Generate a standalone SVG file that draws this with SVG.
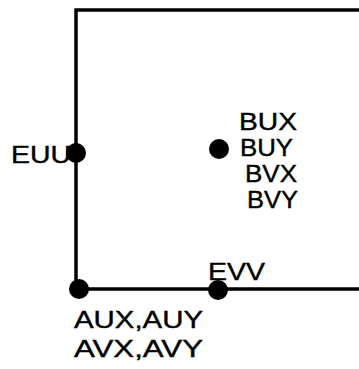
<svg xmlns="http://www.w3.org/2000/svg" width="359" height="369" viewBox="0 0 359 369">
<style>
.ln{fill:none;stroke:#000;stroke-width:3.5;stroke-linejoin:miter}
.dot{fill:#000}
.t{font-family:"Liberation Sans",Arial,sans-serif;font-size:24px;fill:#000;stroke:#000;stroke-width:0.4}
</style>
<rect width="359" height="369" fill="#fff"/>
<g id="connectors">
<polyline class="ln" points="359,10 76,10 76,289 359,289"/>
</g>
<g id="node-euu">
<circle class="dot" cx="76" cy="153" r="10"/>
<text class="t" x="11" y="163" textLength="60" lengthAdjust="spacingAndGlyphs">EUU</text>
</g>
<g id="node-center">
<circle class="dot" cx="219" cy="149" r="10"/>
<text class="t" x="239" y="130" textLength="58" lengthAdjust="spacingAndGlyphs">BUX</text>
<text class="t" x="240" y="156" textLength="53" lengthAdjust="spacingAndGlyphs">BUY</text>
<text class="t" x="245" y="182" textLength="52" lengthAdjust="spacingAndGlyphs">BVX</text>
<text class="t" x="247" y="208" textLength="51" lengthAdjust="spacingAndGlyphs">BVY</text>
</g>
<g id="node-corner">
<circle class="dot" cx="79" cy="289" r="10"/>
<text class="t" x="74" y="328" textLength="129" lengthAdjust="spacingAndGlyphs">AUX,AUY</text>
<text class="t" x="74" y="357" textLength="129" lengthAdjust="spacingAndGlyphs">AVX,AVY</text>
</g>
<g id="node-evv">
<circle class="dot" cx="218" cy="290" r="10"/>
<text class="t" x="208" y="280" textLength="57" lengthAdjust="spacingAndGlyphs">EVV</text>
</g>
</svg>
